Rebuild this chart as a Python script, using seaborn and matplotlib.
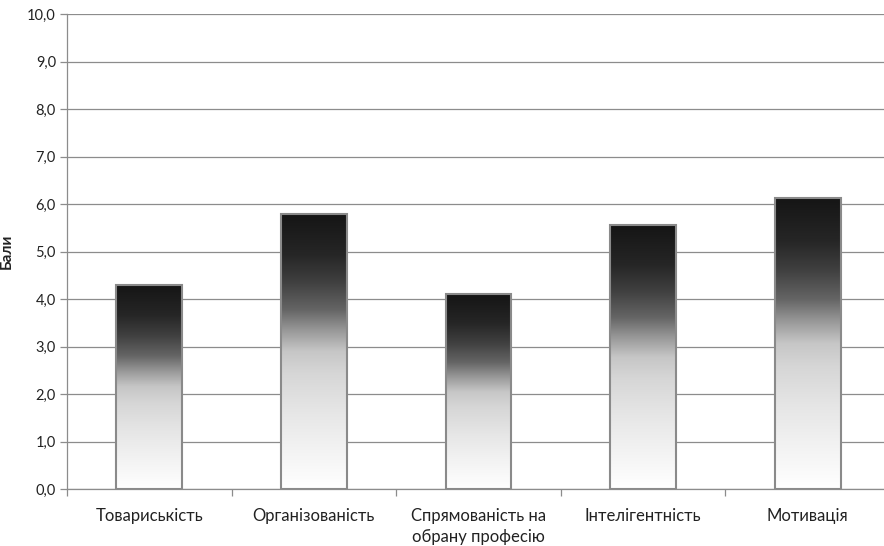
import numpy as np
import pandas as pd
import matplotlib
matplotlib.use("Agg")
import matplotlib.pyplot as plt
import seaborn as sns
from matplotlib.colors import LinearSegmentedColormap
from matplotlib.ticker import FuncFormatter, FixedLocator

categories = ["Товариськість", "Організованість", "Спрямованість на\nобрану професію",
              "Інтелігентність", "Мотивація"]
values = [4.3, 5.8, 4.1, 5.55, 6.13]
y_label = "Бали"

sns.set_theme(style="white")
plt.rcParams['font.family'] = ['Lato', 'DejaVu Sans']

fig = plt.figure(figsize=(8.84, 5.46), dpi=100)
ax = fig.add_axes([67/884, 57/546, 823/884, 475/546])

df = pd.DataFrame({"cat": categories, "val": values})
sns.barplot(data=df, x="cat", y="val", ax=ax, width=0.4, color="#888888",
            edgecolor="#8a8a8a", linewidth=1.5, zorder=3)

cmap = LinearSegmentedColormap.from_list("g", [
    (0.0, "#151515"), (0.15, "#262626"), (0.25, "#404040"), (0.35, "#656565"),
    (0.42, "#959595"), (0.5, "#c6c6c6"), (0.58, "#d6d6d6"), (0.72, "#e6e6e6"),
    (0.86, "#f3f3f3"), (1.0, "#ffffff")])
grad = np.linspace(0, 1, 256).reshape(-1, 1)
for p in ax.patches:
    x0, w, h = p.get_x(), p.get_width(), p.get_height()
    p.set_facecolor("none")
    im = ax.imshow(grad, cmap=cmap, aspect="auto", extent=(x0, x0 + w, 0, h),
                   origin="upper", zorder=2.5, interpolation="bicubic")
    im.set_clip_path(p)

ax.set_xlim(-0.5, 4.5)
ax.set_ylim(0, 10)
ax.set_yticks(np.arange(0, 11, 1))
ax.yaxis.set_major_formatter(FuncFormatter(lambda v, _: f"{v:.1f}".replace(".", ",")))
ax.grid(axis="y", color="#8c8c8c", linewidth=0.9, zorder=0)
ax.set_axisbelow(True)

for s in ["top", "right"]:
    ax.spines[s].set_visible(False)
for s in ["left", "bottom"]:
    ax.spines[s].set_color("#8c8c8c")
    ax.spines[s].set_linewidth(0.9)

ax.tick_params(axis="y", which="major", length=5, width=0.9, color="#8c8c8c",
               labelsize=10.5, labelcolor="#222222", left=True, pad=3)
ax.tick_params(axis="x", which="major", length=0, labelsize=12, labelcolor="#222222", pad=14)
for lbl in ax.get_xticklabels():
    lbl.set_linespacing(1.35)
ax.xaxis.set_minor_locator(FixedLocator([-0.5, 0.5, 1.5, 2.5, 3.5]))
ax.tick_params(axis="x", which="minor", length=5, width=0.9, color="#8c8c8c", bottom=True)

ax.set_xlabel("")
ax.set_ylabel(y_label, fontsize=11, fontweight="bold", color="#222222")
ax.yaxis.set_label_coords(-53/823, 0.5)

fig.savefig("out.png", dpi=100)
